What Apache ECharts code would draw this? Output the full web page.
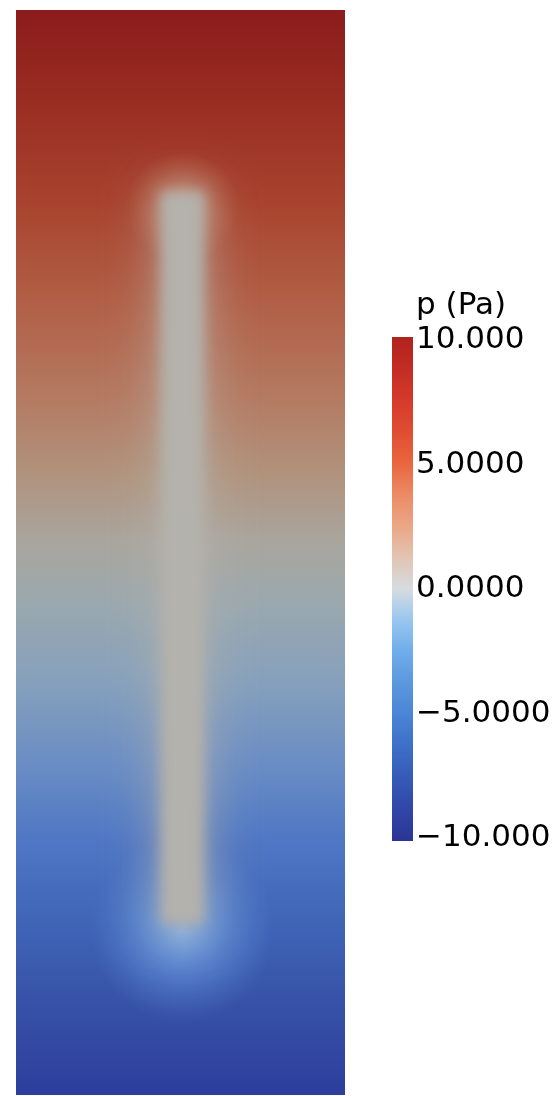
<!DOCTYPE html>
<html>
<head>
<meta charset="utf-8">
<script src="https://cdn.jsdelivr.net/npm/echarts@6/dist/echarts.min.js"></script>
<style>
html,body{margin:0;padding:0;background:#fff;}
#chart{width:558px;height:1096px;}
</style>
</head>
<body>
<div id="chart"></div>
<script>
// ---- data ----
// background pressure profile (domain height coordinate z, bottom = 0, top = 3.3)
const FIELD_Z = [3.3, 3.0, 2.7, 2.4, 2.1, 1.8, 1.5, 1.2, 0.9, 0.6, 0.3, 0.0];
const FIELD_P = [10.0, 8.2, 6.4, 4.5, 2.7, 0.9, -0.9, -2.7, -4.5, -6.4, -8.2, -10.0];
// inclusion (fracture) extent: [x0, x1, z0, z1]
const INCLUSION = [0.44, 0.572, 0.52, 2.746];
// pressure halos at the inclusion tips: [cx, cz, radius]
const HALO_TOP = [0.506, 2.70, 0.17];
const HALO_BOTTOM = [0.506, 0.50, 0.28];
// colour bar
const CBAR_RANGE = [-10, 10];
const TICK_VALUES = [-10, -5, 0, 5, 10];
const TICK_LABELS = ['\u221210.000', '\u22125.0000', '0.0000', '5.0000', '10.000'];
const TITLE = 'p (Pa)';

// ---- colour maps (style) ----
const FIELD_MAP = [[-10,'#2d3d9c'],[-8.3,'#3752a8'],[-6.8,'#4066b8'],[-5.3,'#4f77c4'],[-3.85,'#6a8dc4'],
  [-2.35,'#86a0bc'],[-0.9,'#9ba8ae'],[0.2,'#a9a59e'],[1.33,'#b0947f'],[2.8,'#b47a62'],[4.65,'#b15e45'],
  [6.5,'#a8432e'],[8.3,'#9a2d22'],[10,'#8b1c1b']];
const CBAR_MAP = [[-10,'#2b3594'],[-8.75,'#3046a8'],[-7.5,'#365ab8'],[-6.25,'#3d6fc8'],[-5,'#4a84d6'],
  [-3.75,'#5a98de'],[-2.5,'#6eacea'],[-1.25,'#98c6f0'],[0,'#d6dce2'],[1.25,'#e2c4b2'],[2.5,'#eba686'],
  [3.75,'#ec8a64'],[5,'#e8663f'],[6.25,'#e04d32'],[7.5,'#d43a2a'],[8.75,'#c42c24'],[10,'#b0231e']];

function hex2rgb(h){return [parseInt(h.substr(1,2),16),parseInt(h.substr(3,2),16),parseInt(h.substr(5,2),16)];}
function mapColor(map, p){
  if(p<=map[0][0]) return map[0][1];
  if(p>=map[map.length-1][0]) return map[map.length-1][1];
  for(let i=0;i<map.length-1;i++){
    const a=map[i], b=map[i+1];
    if(p>=a[0] && p<=b[0]){
      const t=(p-a[0])/(b[0]-a[0]);
      const ca=hex2rgb(a[1]), cb=hex2rgb(b[1]);
      const c=ca.map((v,k)=>Math.round(v+(cb[k]-v)*t));
      return 'rgb('+c.join(',')+')';
    }
  }
}

const bandData = [];
for(let i=0;i<FIELD_Z.length-1;i++){
  bandData.push([FIELD_Z[i], FIELD_Z[i+1], FIELD_P[i], FIELD_P[i+1]]);
}

const chart = echarts.init(document.getElementById('chart'), null, {renderer:'canvas'});
const FONT = 'DejaVu Sans';
const OFF = 3000; // draw shapes off-canvas and keep only their blurred shadow

const option = {
  animation:false,
  backgroundColor:'#ffffff',
  title:{text:TITLE, left:416, top:290, padding:0,
    textStyle:{fontFamily:FONT, fontSize:31, fontWeight:'normal', color:'#000'}},
  grid:[
    {left:16, top:10, width:329, height:1085},
    {left:392, top:340, width:21, height:498}
  ],
  xAxis:[
    {gridIndex:0, type:'value', min:0, max:1, show:false},
    {gridIndex:1, type:'value', min:0, max:1, show:false}
  ],
  yAxis:[
    {gridIndex:0, type:'value', min:0, max:3.3, show:false},
    {gridIndex:1, type:'value', min:CBAR_RANGE[0], max:CBAR_RANGE[1], interval:5, position:'right',
      axisLine:{show:false}, axisTick:{show:false}, splitLine:{show:false},
      axisLabel:{show:true, margin:3, showMinLabel:true, showMaxLabel:true,
        fontFamily:FONT, fontSize:31, color:'#000',
        formatter:function(v){const i=TICK_VALUES.indexOf(v); return i>=0?TICK_LABELS[i]:'';}}}
  ],
  series:[
    { // background field bands
      type:'custom', xAxisIndex:0, yAxisIndex:0, data:bandData, silent:true, clip:true,
      renderItem:function(params, api){
        const zt=api.value(0), zb=api.value(1), pt=api.value(2), pb=api.value(3);
        const a=api.coord([0,zt]), b=api.coord([1,zb]);
        const stops=[];
        for(let k=0;k<=8;k++){const t=k/8; stops.push({offset:t, color:mapColor(FIELD_MAP, pt+(pb-pt)*t)});}
        return {type:'rect', shape:{x:a[0], y:a[1]-0.5, width:b[0]-a[0], height:b[1]-a[1]+1},
          style:{fill:new echarts.graphic.LinearGradient(0,0,0,1,stops)}};
      }
    },
    { // halos at the tips
      type:'custom', xAxisIndex:0, yAxisIndex:0, silent:true,
      data:[HALO_TOP.concat([0]), HALO_BOTTOM.concat([1])],
      renderItem:function(params, api){
        const c=api.coord([api.value(0), api.value(1)]);
        const r=api.size([api.value(2),0])[0];
        const kind=api.value(3);
        const stops = kind===0 ?
          [{offset:0,color:'rgba(204,166,146,0.85)'},{offset:0.5,color:'rgba(196,140,112,0.4)'},{offset:1,color:'rgba(190,120,90,0)'}] :
          [{offset:0,color:'rgba(140,182,232,0.9)'},{offset:0.45,color:'rgba(112,162,228,0.5)'},{offset:1,color:'rgba(90,140,215,0)'}];
        return {type:'rect', shape:{x:c[0]-r, y:c[1]-r, width:2*r, height:2*r},
          style:{fill:new echarts.graphic.RadialGradient(0.5,0.5,0.5,stops)}};
      }
    },
    { // inclusion: wide soft glow + blurred core
      type:'custom', xAxisIndex:0, yAxisIndex:0, silent:true, data:[INCLUSION],
      renderItem:function(params, api){
        const a=api.coord([api.value(0), api.value(3)]), b=api.coord([api.value(1), api.value(2)]);
        const w=b[0]-a[0], h=b[1]-a[1];
        return {type:'group', children:[
          {type:'rect', shape:{x:a[0]-OFF-6, y:a[1]-4, width:w+12, height:h+8},
            style:{fill:'#b3b1ab', shadowBlur:46, shadowOffsetX:OFF, shadowColor:'rgba(182,178,170,0.65)'}},
          {type:'rect', shape:{x:a[0]-OFF, y:a[1], width:w, height:h},
            style:{fill:'#b3b1ab', shadowBlur:12, shadowOffsetX:OFF, shadowColor:'rgba(180,178,172,1)'}}
        ]};
      }
    },
    { // colour bar
      type:'custom', xAxisIndex:1, yAxisIndex:1, silent:true, data:[CBAR_RANGE],
      renderItem:function(params, api){
        const lo=api.value(0), hi=api.value(1);
        const a=api.coord([0,hi]), b=api.coord([1,lo]);
        const stops=CBAR_MAP.map(s=>({offset:(hi-s[0])/(hi-lo), color:s[1]})).reverse();
        return {type:'rect', shape:{x:a[0], y:a[1]-3, width:b[0]-a[0], height:b[1]-a[1]+6},
          style:{fill:new echarts.graphic.LinearGradient(0,0,0,1,stops)}};
      }
    }
  ]
};
chart.setOption(option);
</script>
</body>
</html>
